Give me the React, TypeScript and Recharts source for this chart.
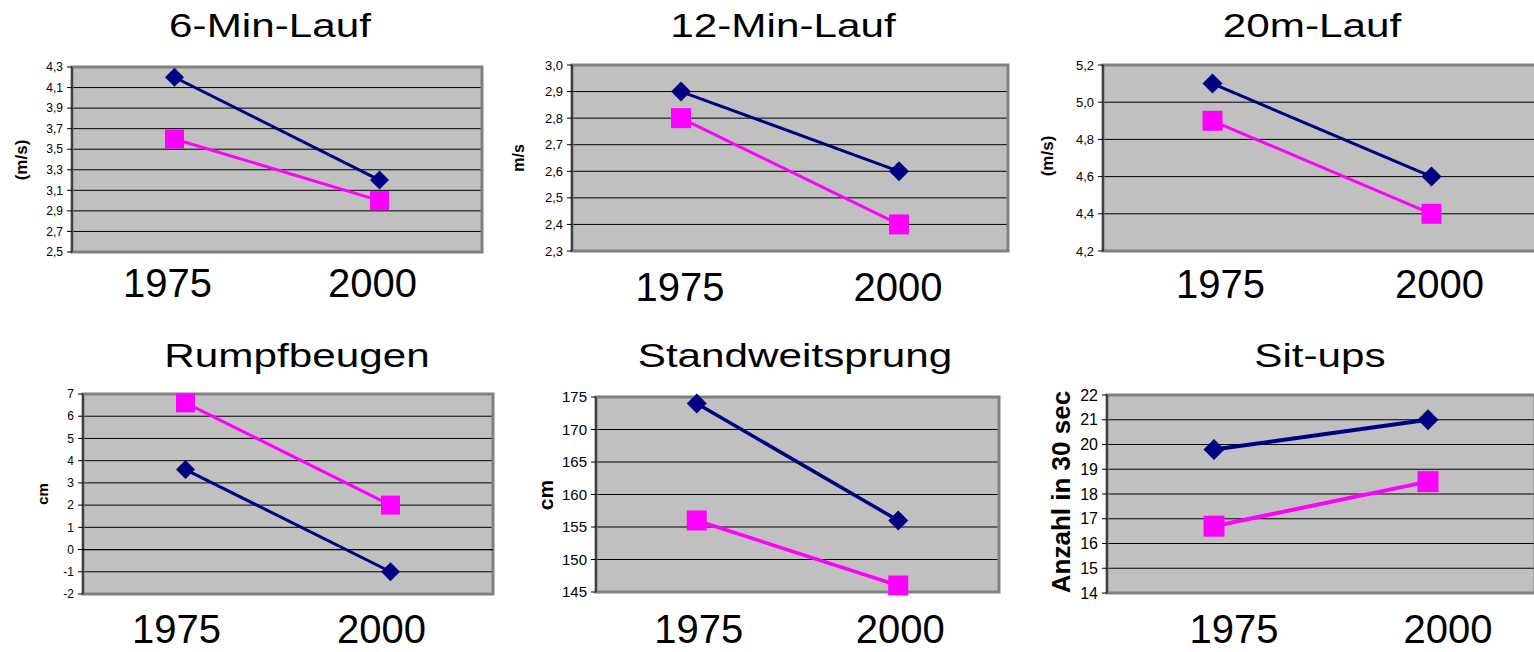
import React from "react"
import {
  LineChart,
  Line,
  XAxis,
  YAxis,
  CartesianGrid,
  ReferenceArea,
  ReferenceLine,
} from "recharts"

// Kategorien (x-Achse)
const years = ["1975", "2000"]

// Werte: blau = Raute, pink = Quadrat
const sechsMinBlau = [4.2, 3.2]
const sechsMinPink = [3.6, 3.0]
const sechsMinTicks = [2.5, 2.7, 2.9, 3.1, 3.3, 3.5, 3.7, 3.9, 4.1, 4.3]

const zwoelfMinBlau = [2.9, 2.6]
const zwoelfMinPink = [2.8, 2.4]
const zwoelfMinTicks = [2.3, 2.4, 2.5, 2.6, 2.7, 2.8, 2.9, 3.0]

const zwanzigMBlau = [5.1, 4.6]
const zwanzigMPink = [4.9, 4.4]
const zwanzigMTicks = [4.2, 4.4, 4.6, 4.8, 5.0, 5.2]

const rumpfBlau = [3.6, -1.0]
const rumpfPink = [6.6, 2.0]
const rumpfTicks = [-2, -1, 0, 1, 2, 3, 4, 5, 6, 7]

const sprungBlau = [174, 156]
const sprungPink = [156, 146]
const sprungTicks = [145, 150, 155, 160, 165, 170, 175]

const situpsBlau = [19.8, 21.0]
const situpsPink = [16.7, 18.5]
const situpsTicks = [14, 15, 16, 17, 18, 19, 20, 21, 22]

const FONT = "'Liberation Sans', Arial, sans-serif"
const NAVY = "#000080"
const PINK = "#FF00FF"

type Panel = {
  title: string
  unit: string
  blau: number[]
  pink: number[]
  ticks: number[]
  decimals: number
  box: { left: number; top: number; right: number; bottom: number }
  titleX: number
  titleY: number
  unitX: number
  unitY: number
  unitSize: number
  tickFont: number
  labelDx: number
  labelDy: number
  marker: number
  lineW: number
  zeroLine?: boolean
}

const panels: Panel[] = [
  {
    title: "6-Min-Lauf", unit: "(m/s)", blau: sechsMinBlau, pink: sechsMinPink, ticks: sechsMinTicks, decimals: 1,
    box: { left: 72, top: 67, right: 482, bottom: 252 },
    titleX: 270, titleY: 37, unitX: 21, unitY: 160, unitSize: 17, tickFont: 12, labelDx: -7, labelDy: 45, marker: 9.5, lineW: 3,
  },
  {
    title: "12-Min-Lauf", unit: "m/s", blau: zwoelfMinBlau, pink: zwoelfMinPink, ticks: zwoelfMinTicks, decimals: 1,
    box: { left: 572, top: 65, right: 1008, bottom: 251 },
    titleX: 783, titleY: 37, unitX: 518, unitY: 158, unitSize: 16, tickFont: 13, labelDx: -1, labelDy: 50, marker: 10, lineW: 3,
  },
  {
    title: "20m-Lauf", unit: "(m/s)", blau: zwanzigMBlau, pink: zwanzigMPink, ticks: zwanzigMTicks, decimals: 1,
    box: { left: 1103, top: 65, right: 1541, bottom: 251 },
    titleX: 1312, titleY: 37, unitX: 1047, unitY: 156, unitSize: 17, tickFont: 13, labelDx: 8, labelDy: 47, marker: 10, lineW: 3,
  },
  {
    title: "Rumpfbeugen", unit: "cm", blau: rumpfBlau, pink: rumpfPink, ticks: rumpfTicks, decimals: 0,
    box: { left: 83, top: 394, right: 493, bottom: 594 },
    titleX: 297, titleY: 367, unitX: 42, unitY: 494, unitSize: 15, tickFont: 12, labelDx: -9, labelDy: 49, marker: 9.5, lineW: 3,
    zeroLine: true,
  },
  {
    title: "Standweitsprung", unit: "cm", blau: sprungBlau, pink: sprungPink, ticks: sprungTicks, decimals: 0,
    box: { left: 596, top: 397, right: 999, bottom: 592 },
    titleX: 795, titleY: 367, unitX: 545, unitY: 495, unitSize: 21, tickFont: 15, labelDx: 2, labelDy: 51, marker: 10, lineW: 3.5,
  },
  {
    title: "Sit-ups", unit: "Anzahl in 30 sec", blau: situpsBlau, pink: situpsPink, ticks: situpsTicks, decimals: 0,
    box: { left: 1107, top: 395, right: 1535, bottom: 593 },
    titleX: 1320, titleY: 367, unitX: 1061, unitY: 492, unitSize: 26, tickFont: 16, labelDx: 20, labelDy: 50, marker: 10.5, lineW: 4,
  },
]

const PAD_L = 70
const PAD_T = 12
const PAD_R = 12
const AXIS_H = 70

function fmt(v: number, decimals: number) {
  return v.toFixed(decimals).replace(".", ",")
}

function Diamond(props: any) {
  const { cx, cy, r, index } = props
  if (cx == null || cy == null) return <g key={index} />
  return (
    <polygon
      key={index}
      points={`${cx},${cy - r} ${cx + r},${cy} ${cx},${cy + r} ${cx - r},${cy}`}
      fill={NAVY}
    />
  )
}

function Square(props: any) {
  const { cx, cy, r, index } = props
  if (cx == null || cy == null) return <g key={index} />
  return <rect key={index} x={cx - r} y={cy - r} width={r * 2} height={r * 2} fill={PINK} />
}

function ChartPanel({ p }: { p: Panel }) {
  const plotW = p.box.right - p.box.left
  const plotH = p.box.bottom - p.box.top
  const width = plotW + PAD_L + PAD_R
  const height = plotH + PAD_T + AXIS_H
  const data = years.map((year, i) => ({ year, blau: p.blau[i], pink: p.pink[i] }))
  const lo = p.ticks[0]
  const hi = p.ticks[p.ticks.length - 1]

  return (
    <div style={{ position: "absolute", left: p.box.left - PAD_L, top: p.box.top - PAD_T }}>
      <LineChart width={width} height={height} data={data} margin={{ top: PAD_T, right: PAD_R, left: 0, bottom: 0 }}>
        <CartesianGrid xAxisId="frame" horizontal vertical={false} stroke="#000" fill="#C0C0C0" fillOpacity={1} />
        <ReferenceArea xAxisId="frame" y1={lo} y2={hi} fill="none" stroke="#808080" strokeWidth={3} ifOverflow="visible" />
        {p.zeroLine && <ReferenceLine xAxisId="frame" y={0} stroke="#000" strokeWidth={1.2} />}
        <XAxis
          xAxisId="frame"
          type="number"
          domain={[0, 2]}
          ticks={[0, 1, 2]}
          allowDataOverflow
          height={0}
          tick={false}
          tickSize={5}
          tickLine={p.zeroLine ? false : { stroke: "#000" }}
          axisLine={p.zeroLine ? false : { stroke: "#000" }}
        />
        <XAxis
          xAxisId="cat"
          dataKey="year"
          height={AXIS_H}
          padding={{ left: plotW / 4, right: plotW / 4 }}
          axisLine={false}
          tickLine={false}
          tickSize={0}
          tickMargin={0}
          interval={0}
          tick={(t: any) => (
            <text
              key={t.index}
              x={t.x + p.labelDx}
              y={t.y + p.labelDy}
              textAnchor="middle"
              fontSize={40}
              fontFamily={FONT}
              fill="#000"
            >
              {t.payload.value}
            </text>
          )}
        />
        <YAxis
          type="number"
          domain={[lo, hi]}
          ticks={p.ticks}
          interval={0}
          width={PAD_L}
          tickSize={5}
          tickMargin={4}
          tickFormatter={(v: number) => fmt(v, p.decimals)}
          tick={{ fontSize: p.tickFont, fill: "#000", fontFamily: FONT }}
          axisLine={{ stroke: "#000" }}
          tickLine={{ stroke: "#000" }}
        />
        <Line
          xAxisId="cat"
          dataKey="blau"
          stroke={NAVY}
          strokeWidth={p.lineW}
          isAnimationActive={false}
          dot={(d: any) => <Diamond key={d.index} {...d} r={p.marker} />}
          activeDot={false}
        />
        <Line
          xAxisId="cat"
          dataKey="pink"
          stroke={PINK}
          strokeWidth={p.lineW}
          isAnimationActive={false}
          dot={(d: any) => <Square key={d.index} {...d} r={p.marker} />}
          activeDot={false}
        />
      </LineChart>
    </div>
  )
}

export default function App() {
  return (
    <div
      style={{
        position: "absolute",
        left: 0,
        top: 0,
        width: 1534,
        height: 652,
        overflow: "hidden",
        background: "#fff",
        fontFamily: FONT,
      }}
    >
      {panels.map((p) => (
        <ChartPanel key={p.title} p={p} />
      ))}
      <svg width={1534} height={652} style={{ position: "absolute", left: 0, top: 0, pointerEvents: "none" }}>
        {panels.map((p) => (
          <g key={p.title}>
            <text
              transform={`translate(${p.titleX},${p.titleY}) scale(1.28,1)`}
              textAnchor="middle"
              fontSize={33}
              fontFamily={FONT}
              fill="#000"
            >
              {p.title}
            </text>
            <text
              transform={`translate(${p.unitX},${p.unitY}) rotate(-90)`}
              textAnchor="middle"
              dominantBaseline="central"
              fontSize={p.unitSize}
              fontWeight="bold"
              fontFamily={FONT}
              fill="#000"
            >
              {p.unit}
            </text>
          </g>
        ))}
      </svg>
    </div>
  )
}
